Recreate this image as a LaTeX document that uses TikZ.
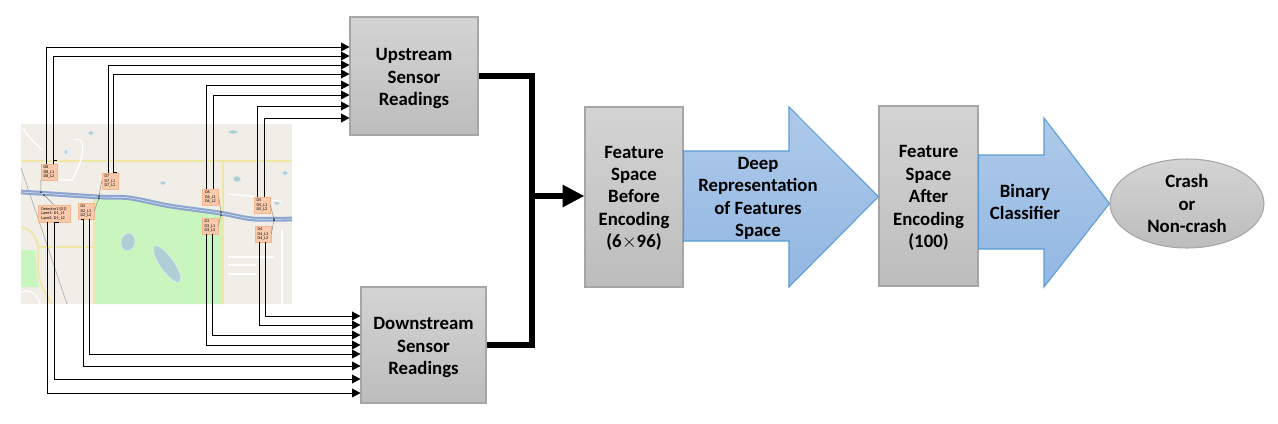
\documentclass[tikz,border=0pt]{standalone}
\usepackage{fontspec}
\setmainfont{Carlito}
\usetikzlibrary{arrows.meta, calc, shapes.geometric}

\tikzset{
	greybox/.style={draw=black!35, line width=0.6pt, top color=black!17, bottom color=black!26, inner sep=0pt},
	bluearrow/.style={draw=arrowedge, line width=0.6pt, top color=arrowtop, bottom color=arrowbottom},
	blocktext/.style={inner sep=0pt, align=center, font=\fontsize{10.7}{12.75}\selectfont\bfseries},
	detbox/.style={draw=detedge, line width=0.3pt, fill=detfill, inner sep=0pt, minimum width=0.32cm, minimum height=0.32cm, align=left, font=\fontsize{2.4}{2.7}\selectfont},
	feed/.style={draw=black, line width=0.55pt, -{Triangle[length=4.8pt,width=5pt]}},
	stub/.style={draw=black, line width=0.55pt},
	bus/.style={draw=black, line width=3.7pt},
	street/.style={draw=white, line width=0.7pt},
	mainroad/.style={draw=roadyellow, line width=1.1pt},
	pond/.style={fill=pondblue, draw=white!60!pondblue, line width=0.4pt},
}
\definecolor{arrowtop}{HTML}{AECAE9}
\definecolor{arrowbottom}{HTML}{92B7E2}
\definecolor{arrowedge}{HTML}{5B9BD5}
\definecolor{detfill}{HTML}{F9CBAC}
\definecolor{detedge}{HTML}{F4B68F}
\definecolor{mapbg}{HTML}{F1EEE8}
\definecolor{parkgreen}{HTML}{C9F5BE}
\definecolor{roadblue}{HTML}{8CA6CF}
\definecolor{roadyellow}{HTML}{F0E6A6}
\definecolor{pondblue}{HTML}{AFCFD6}

\begin{document}
\begin{tikzpicture}[x=0.02cm, y=-0.02cm]
	\useasboundingbox (0, 0) rectangle (1278, 423);
	% Map:
	\fill[mapbg] (21, 124) rectangle (292, 304);
	\fill[parkgreen] (94, 198) -- (130, 198) -- (170, 206) -- (223, 214) -- (223, 304) -- (94, 304) -- cycle;
	\fill[parkgreen] (21, 250) -- (35, 250) -- (37, 276) -- (39, 287) -- (21, 287) -- cycle;
	\draw[black!30, line width=0.4pt] (21, 168) -- (67, 304);
	\draw[mainroad] (21, 161) -- (292, 161);
	\draw[mainroad] (223, 161) -- (223, 304);
	\draw[mainroad] (94, 198) -- (94, 304);
	\draw[mainroad] (38, 247) -- (94, 247);
	\draw[mainroad] (21, 227) .. controls (34, 230) and (40, 240) .. (38, 262) .. controls (37, 280) and (44, 292) .. (52, 304);
	\foreach \x/\y/\w/\h/\r in {128/242/7/9/-10, 167/264/7/22/35, 91/133/3/2/0, 66/152/2/2/0, 233/132/5/2/0, 163/183/3/2/0, 237/179/4/3/0, 277/203/3/2/0, 285/173/3/2/0}
		\draw[pond, rotate around={\r:(\x, \y)}] (\x, \y) ellipse[x radius=\w, y radius=\h];
	\draw[street] (228, 194) -- (250, 196) -- (282, 202);
	\draw[street] (228, 257) -- (274, 257);
	\draw[street] (228, 265) -- (256, 265);
	\draw[street] (228, 274) -- (256, 274);
	\draw[street] (282, 230) -- (282, 304);
	\draw[street] (23, 128) .. controls (30, 140) and (38, 145) .. (42, 150);
	\draw[street] (74, 140) .. controls (88, 135) and (84, 160) .. (72, 180) -- (57, 180);
	\draw[street] (21, 292) .. controls (32, 288) and (38, 296) .. (40, 304);
	% Motorway:
	\draw[roadblue, line width=2.7pt] plot[smooth] coordinates {(21, 192) (53, 194) (100, 197) (130, 198) (170, 206) (220, 213) (253, 219) (292, 219)};
	\draw[white!70!roadblue, line width=0.3pt] plot[smooth] coordinates {(21, 192) (53, 194) (100, 197) (130, 198) (170, 206) (220, 213) (253, 219) (292, 219)};
	% Detectors:
	\node[detbox] (d8) at (49, 172){D8\\D8\_L1\\D8\_L2};
	\node[detbox] (d7) at (110, 181){D7\\D7\_L1\\D7\_L2};
	\node[detbox, minimum width=0.64cm, minimum height=0.34cm] (d1) at (54, 213.5){Detector1 (D1)\\Lane1: D1\_L1\\Lane2: D1\_L2};
	\node[detbox] (d2) at (86, 211){D2\\D2\_L1\\D2\_L2};
	\node[detbox] (d6) at (210.5, 197){D6\\D6\_L1\\D6\_L2};
	\node[detbox] (d3) at (210, 226){D3\\D3\_L1\\D3\_L2};
	\node[detbox] (d5) at (262, 205){D5\\D5\_L1\\D5\_L2};
	\node[detbox] (d4) at (263, 234){D4\\D4\_L1\\D4\_L2};
	% Taps on the motorway:
	\foreach \det/\side/\x/\y/\tap in {d8/south west/41/192/t8, d1/north/44/195/t1, d7/west/99/196/t7, d2/east/99/198/t2, d6/east/221/212/t6, d3/east/221/215/t3, d5/east/274/219/t5, d4/east/274/220/t4}{
		\coordinate (\tap) at (\x, \y);
		\draw[black!45, line width=0.3pt] (\det.\side) -- (\tap);
		\fill[black!75] (\tap) circle (1);
	}
	% Blocks:
	\node[greybox, minimum width=2.56cm, minimum height=2.36cm] (upbox) at (414, 76){};
	\node[blocktext] (uptext) at ([yshift=-0.05cm]upbox.center){Upstream\\Sensor\\Readings};
	\node[greybox, minimum width=2.5cm, minimum height=2.32cm] (downbox) at (423.5, 345){};
	\node[blocktext] (downtext) at ([yshift=-0.05cm]downbox.center){Downstream\\Sensor\\Readings};
	\node[greybox, minimum width=1.96cm, minimum height=3.6cm] (before) at (634, 197){};
	\node[blocktext] (beforetext) at ([yshift=-0.025cm]before.center){Feature\\Space\\Before\\Encoding\\(6$\times$96)};
	\node[greybox, minimum width=1.98cm, minimum height=3.6cm] (after) at (928.5, 196){};
	\node[blocktext] (aftertext) at ([yshift=-0.04cm]after.center){Feature\\Space\\After\\Encoding\\(100)};
	\node[greybox, ellipse, minimum width=3.08cm, minimum height=1.78cm] (crash) at (1187, 203.5){};
	\node[blocktext] (crashtext) at (crash.center){Crash\\or\\Non-crash};
	% Wires from the detectors:
	\foreach \det/\off/\row in {d8/-3/47, d8/4/56, d7/-2/65, d7/3/74, d6/-4.5/85, d6/2.5/95, d5/-5/106, d5/2/118}
		\draw[feed] ($(\det.north)+(\off, 0)$) |- (upbox.west |- 0, \row);
	\foreach \det/\off/\row in {d4/2/316, d4/-4/325, d3/2/335, d3/-4/345, d2/3/354, d2/-3/366, d1/0/379, d1/-7/393}
		\draw[feed] ($(\det.south)+(\off, 0)$) |- (downbox.west |- 0, \row);
	\draw[stub] ($(d8.north)+(4, -3)$) -- ++(4, 0);
	\draw[stub] ($(d7.north)+(3, 0)$) -- ++(4, 0);
	\draw[stub] ($(d1.south)+(0, 0)$) -- ++(5, 0);
	\draw[stub] ($(d2.south)+(-3, 0)$) -- ++(-2, 0);
	% Thick bus:
	\coordinate (busjoin) at (532, 196);
	\draw[bus] (upbox.east |- 0, 76) -| (busjoin) |- (downbox.east |- 0, 345);
	\draw[bus, -{Triangle[length=12.5pt,width=12pt]}] (busjoin) -- (before.west |- busjoin);
	% Block arrows:
	\draw[bluearrow] (before.east |- 0, 151) -- (789, 151) -- (789, 107) -- (after.west |- 0, 196.5) -- (789, 287) -- (789, 241) -- (before.east |- 0, 241) -- cycle;
	\draw[bluearrow] (after.east |- 0, 155) -- (1044, 155) -- (1044, 118) -- (crash.west) -- (1044, 287) -- (1044, 249) -- (after.east |- 0, 249) -- cycle;
	\node[blocktext] (deeptext) at (758, 198.5){Deep\\Representation\\of Features\\Space};
	\node[blocktext] (binarytext) at (1025, 202){Binary\\Classifier};
\end{tikzpicture}
\end{document}
